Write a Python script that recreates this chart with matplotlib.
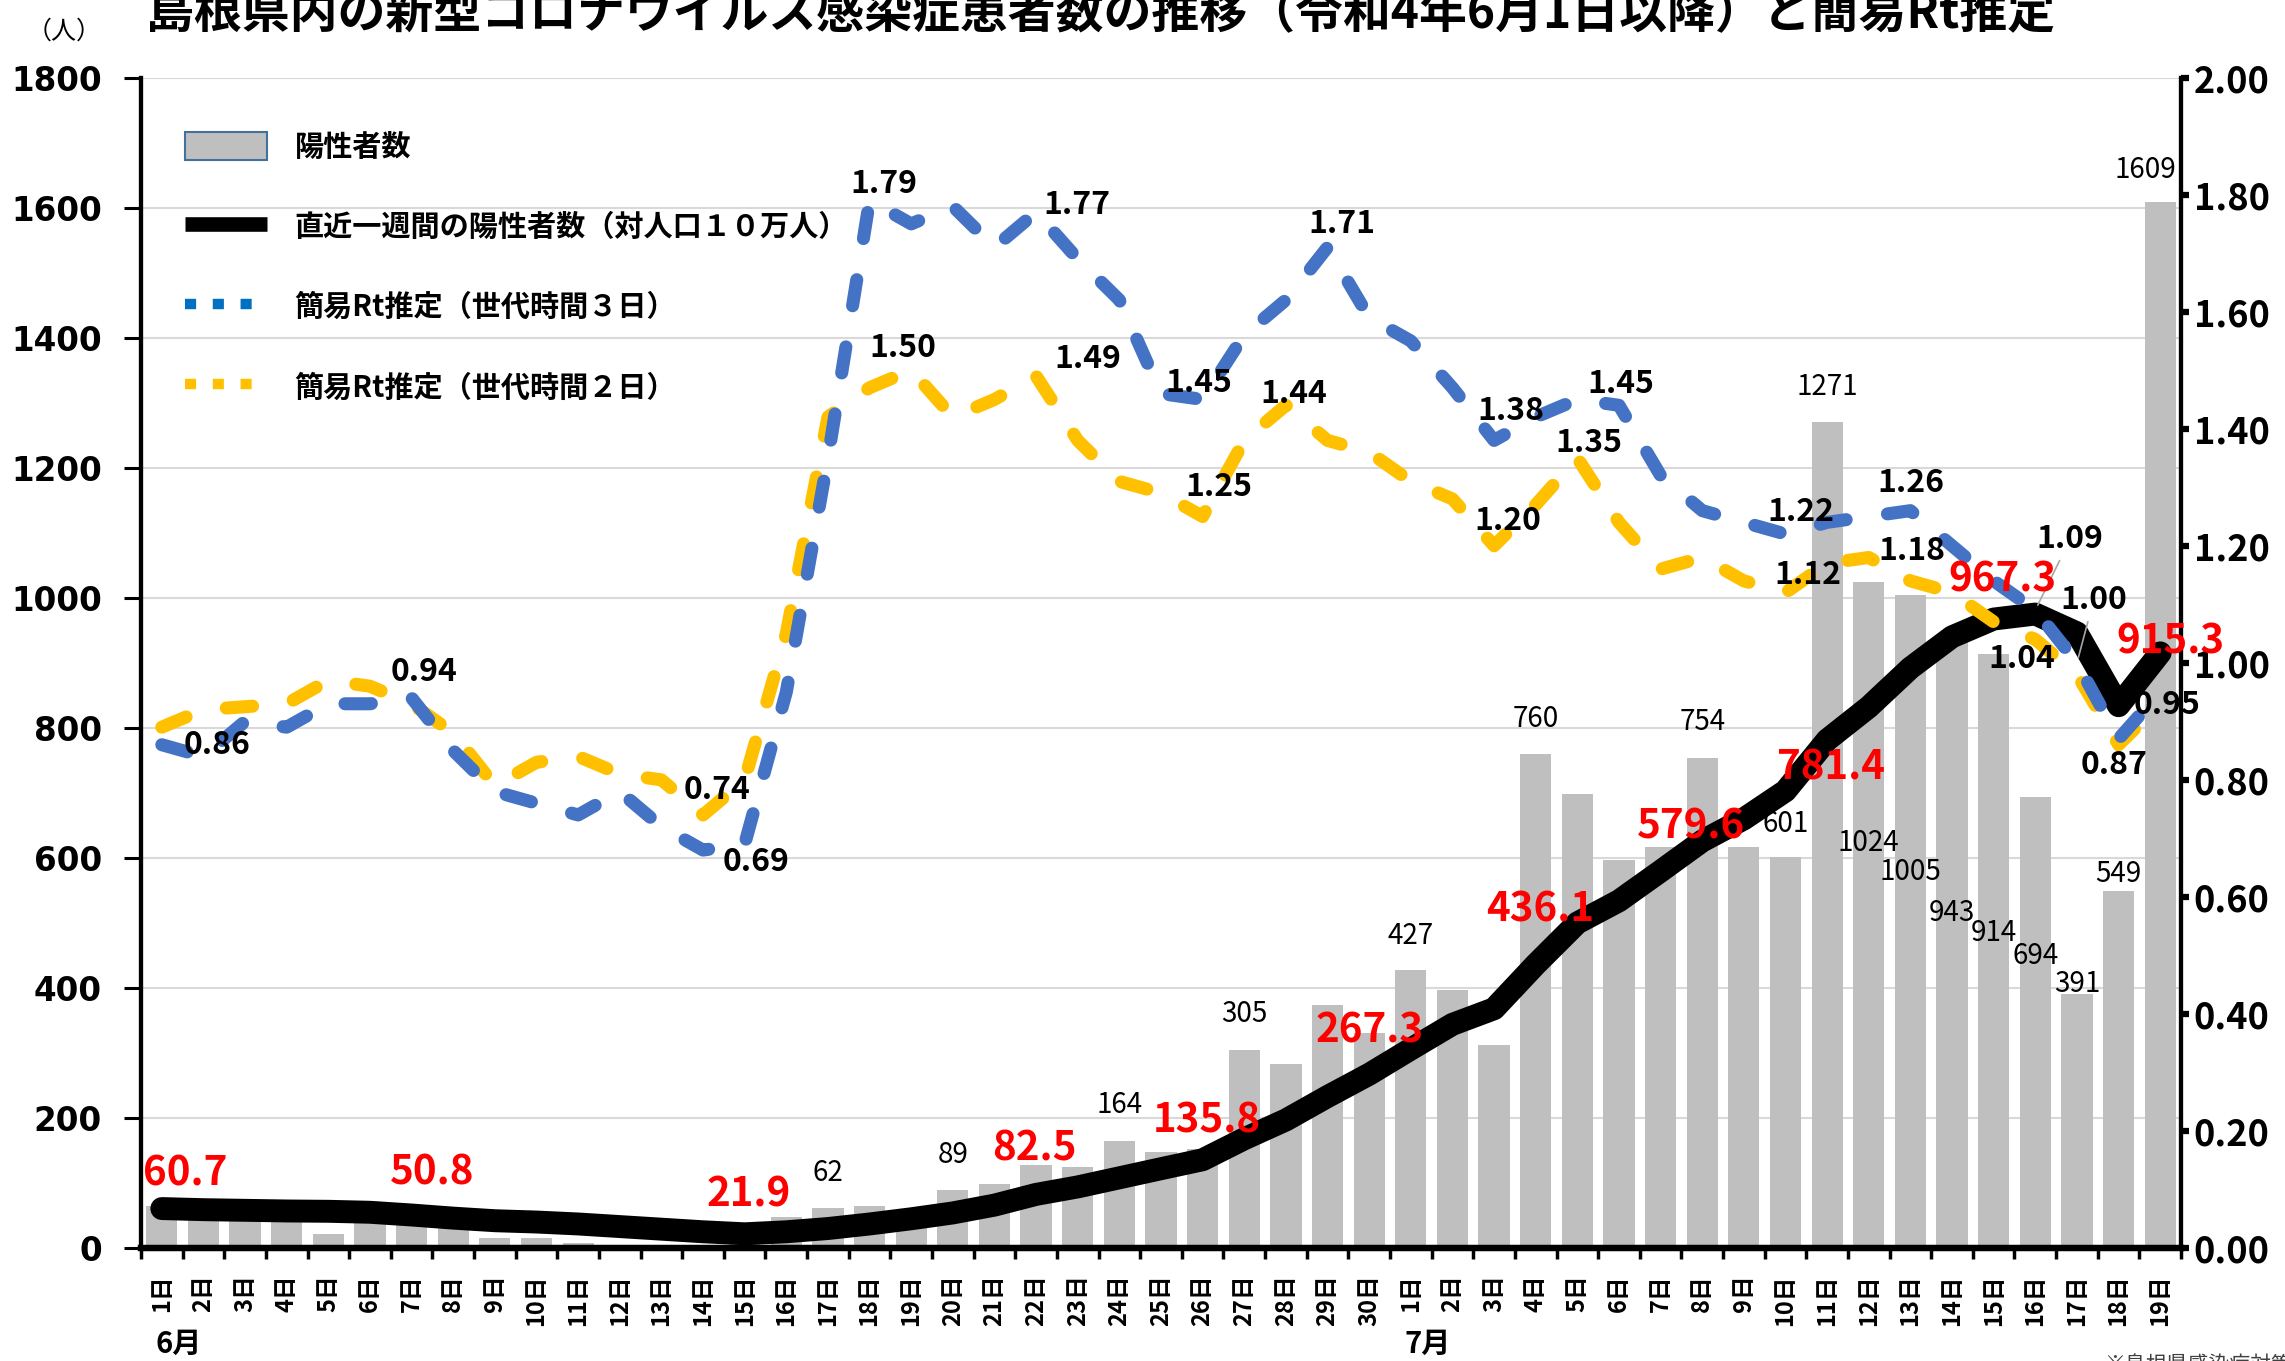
import numpy as np
import matplotlib
matplotlib.use('Agg')
import matplotlib.pyplot as plt
from matplotlib.lines import Line2D
from matplotlib.patches import Patch
import matplotlib.transforms as mtransforms

# フォント設定 ---------------------------------------------
plt.rcParams['font.family'] = ['Noto Sans CJK JP', 'DejaVu Sans']
plt.rcParams['lines.scale_dashes'] = False

# データ ---------------------------------------------------
day_labels = [f'{d}日' for d in range(1, 31)] + [f'{d}日' for d in range(1, 20)]
month_labels = ['6月', '7月']
month_start = [1, 31]

# 陽性者数（6/1～7/19）
positives = [65, 55, 50, 50, 21, 50, 45, 38, 16, 16,
             7, 3, 4, 5, 6, 48, 62, 65, 58, 89,
             98, 128, 125, 164, 148, 153, 305, 283, 374, 330,
             427, 397, 313, 760, 698, 597, 616, 754, 616, 601,
             1271, 1024, 1005, 943, 914, 694, 391, 549, 1609]

# 直近一週間の陽性者数（対人口10万人）
weekly = [60.7, 59, 58, 57, 56.5, 55, 50.8, 46, 42, 40,
          37, 33, 29, 25, 21.9, 25, 30, 37, 45, 54,
          66, 82.5, 94, 108, 122, 135.8, 168, 197, 233, 267.3,
          306, 344, 368, 436.1, 500, 534, 579.6, 626, 660, 703,
          781.4, 832, 892, 940, 967.3, 975, 946, 834, 915.3]

# 簡易Rt推定（世代時間3日）
rt3 = [0.86, 0.84, 0.90, 0.89, 0.93, 0.93, 0.94, 0.85, 0.78, 0.76,
       0.74, 0.78, 0.72, 0.68, 0.69, 0.95, 1.35, 1.79, 1.75, 1.78,
       1.71, 1.77, 1.69, 1.62, 1.46, 1.45, 1.56, 1.62, 1.71, 1.59,
       1.55, 1.47, 1.38, 1.42, 1.45, 1.44, 1.32, 1.26, 1.24, 1.22,
       1.24, 1.25, 1.26, 1.20, 1.14, 1.09, 1.00, 0.87, 0.95]

# 簡易Rt推定（世代時間2日）
rt2 = [0.89, 0.92, 0.925, 0.93, 0.97, 0.96, 0.93, 0.88, 0.79, 0.83,
       0.84, 0.81, 0.80, 0.74, 0.80, 1.05, 1.42, 1.47, 1.50, 1.42,
       1.45, 1.49, 1.38, 1.31, 1.29, 1.25, 1.38, 1.44, 1.38, 1.36,
       1.31, 1.28, 1.20, 1.27, 1.35, 1.24, 1.16, 1.18, 1.14, 1.12,
       1.17, 1.18, 1.14, 1.12, 1.07, 1.04, 0.98, 0.86, 0.93]

# ラベルを付ける日（1始まり）とオフセット（pt）
bar_label_off = {17: (0, 25), 20: (0, 25), 24: (0, 26), 27: (0, 26), 31: (0, 25),
                 34: (0, 25), 38: (0, 26), 40: (0, 24), 41: (0, 25),
                 42: (0, -188), 43: (0, -200), 44: (0, -200), 45: (0, -201),
                 46: (0, -115), 47: (0, 7), 48: (0, 12), 49: (-11, 23)}
weekly_label_off = {1: (17, 25), 7: (15, 30), 15: (3, 28), 22: (-1, 33), 26: (3, 28),
                    30: (0, 31), 34: (3, 39), 37: (22, 32), 41: (3, -20),
                    45: (6, 28), 49: (7, 8)}
rt3_label_off = {1: (40, 0), 7: (9, 19), 15: (8, -13), 18: (10, 12), 22: (29, 5),
                 26: (-3, 12), 29: (10, 17), 33: (12, 21), 35: (31, 11),
                 40: (11, 16), 43: (0, 20), 46: (25, 51), 47: (12, 45),
                 48: (-3, -19), 49: (5, -9)}
rt2_label_off = {14: (10, 18), 19: (-6, 16), 22: (37, 12), 26: (12, 21), 28: (6, 8),
                 33: (10, 18), 35: (8, 11), 40: (16, 13), 42: (31, 5), 46: (-10, -14)}

x = np.arange(1, len(day_labels) + 1)

# 描画 -----------------------------------------------------
fig = plt.figure(figsize=(22.85, 13.61), dpi=100)
ax = fig.add_axes([0.0617, 0.083, 0.8928, 0.860])
ax2 = ax.twinx()

ax.bar(x, positives, width=0.75, color='#bfbfbf', zorder=2)
ax.plot(x, weekly, color='black', lw=16.5, solid_capstyle='round',
        solid_joinstyle='round', zorder=3)

dash = (0, (19, 30))
ax2.plot(x, rt2, color='#ffc000', lw=9.4, linestyle=dash,
         dash_capstyle='round', dash_joinstyle='round', zorder=3)
ax2.plot(x, rt3, color='#4472c4', lw=9.4, linestyle=dash,
         dash_capstyle='round', dash_joinstyle='round', zorder=4)

# 軸
ax.set_xlim(0.5, 49.5)
ax.set_ylim(0, 1800)
ax2.set_ylim(0, 2.0)

ax.set_yticks(np.arange(0, 1801, 200))
ax.set_yticklabels([str(v) for v in range(0, 1801, 200)],
                   fontfamily='DejaVu Sans', fontweight='bold', fontsize=23.5)
ax2.set_yticks(np.arange(0, 2.01, 0.2))
ax2.set_yticklabels([f'{v:.2f}' for v in np.arange(0, 2.01, 0.2)],
                    fontweight='bold', fontsize=26)

ax.set_xticks(x)
ax.set_xticklabels(day_labels, rotation=90, fontweight='bold', fontsize=17)
ax.set_xticks(np.arange(0.5, 50, 1), minor=True)
ax.tick_params(axis='x', which='major', length=0, pad=19)
ax.tick_params(axis='x', which='minor', length=8, width=2.5, color='black')
ax.tick_params(axis='y', length=12, width=2.2, pad=16, color='black')
ax2.tick_params(axis='y', length=6, width=4.5, pad=3, color='black')

ax.grid(axis='y', color='#d9d9d9', lw=1.5, zorder=0)
ax.set_axisbelow(True)

for a in (ax, ax2):
    a.spines['top'].set_visible(False)
    a.spines['left'].set_linewidth(3)
    a.spines['right'].set_linewidth(3)
    a.spines['bottom'].set_linewidth(4.5)

# 月ラベル
for m, d in zip(month_labels, month_start):
    ax.text(d + 0.4, -0.082, m, transform=mtransforms.blended_transform_factory(ax.transData, ax.transAxes),
            ha='center', va='center', fontsize=21, fontweight='bold')

# データラベル
for d, (dx, dy) in bar_label_off.items():
    ax2.annotate(str(positives[d - 1]), xy=(d, positives[d - 1]), xycoords=ax.transData,
                 xytext=(dx, dy), textcoords='offset points', ha='center', va='center',
                 fontsize=20, zorder=10)

for d, (dx, dy) in weekly_label_off.items():
    ax2.annotate(f'{weekly[d - 1]:.1f}', xy=(d, weekly[d - 1]), xycoords=ax.transData,
                 xytext=(dx, dy), textcoords='offset points', ha='center', va='center',
                 fontsize=29, fontweight='bold', color='#ff0000', zorder=11)

leader = {46, 47}
for d, (dx, dy) in rt3_label_off.items():
    kw = {}
    if d in leader:
        kw['arrowprops'] = dict(arrowstyle='-', color='#a6a6a6', lw=1.2, shrinkA=2, shrinkB=4)
    ax2.annotate(f'{rt3[d - 1]:.2f}', xy=(d, rt3[d - 1]), xytext=(dx, dy),
                 textcoords='offset points', ha='center', va='center',
                 fontsize=23, fontweight='bold', zorder=10, **kw)

for d, (dx, dy) in rt2_label_off.items():
    ax2.annotate(f'{rt2[d - 1]:.2f}', xy=(d, rt2[d - 1]), xytext=(dx, dy),
                 textcoords='offset points', ha='center', va='center',
                 fontsize=23, fontweight='bold', zorder=10)

# 凡例
handles = [
    Patch(facecolor='#bfbfbf', edgecolor='#41719c', lw=1.5),
    Line2D([], [], color='black', lw=10.5, solid_capstyle='butt'),
    Line2D([], [], color='#0070c0', lw=7.5, linestyle=(0, (8, 12)), dash_capstyle='butt'),
    Line2D([], [], color='#ffc000', lw=7.5, linestyle=(0, (8, 12)), dash_capstyle='butt'),
]
labels = ['陽性者数', '直近一週間の陽性者数（対人口１０万人）',
          '簡易Rt推定（世代時間３日）', '簡易Rt推定（世代時間２日）']
leg = ax2.legend(handles, labels, loc='upper left', bbox_to_anchor=(0.0145, 0.966),
                 frameon=False, borderpad=0, handlelength=2.8, handleheight=1.1,
                 handletextpad=0.95, labelspacing=1.72,
                 prop={'family': ['Noto Sans CJK JP'], 'weight': 'bold', 'size': 21})
leg.set_zorder(12)

# タイトル・注記
fig.text(0.064, 0.979, '島根県内の新型コロナウイルス感染症患者数の推移（令和4年6月1日以降）と簡易Rt推定',
         ha='left', va='baseline', fontsize=34.5, fontweight='bold')
fig.text(0.028, 0.977, '（人）', ha='center', va='center', fontsize=18)
fig.text(0.921, 0.005, '※島根県感染症対策室', ha='left', va='top', fontsize=15, color='#404040')

fig.savefig('out.png', dpi=100)
